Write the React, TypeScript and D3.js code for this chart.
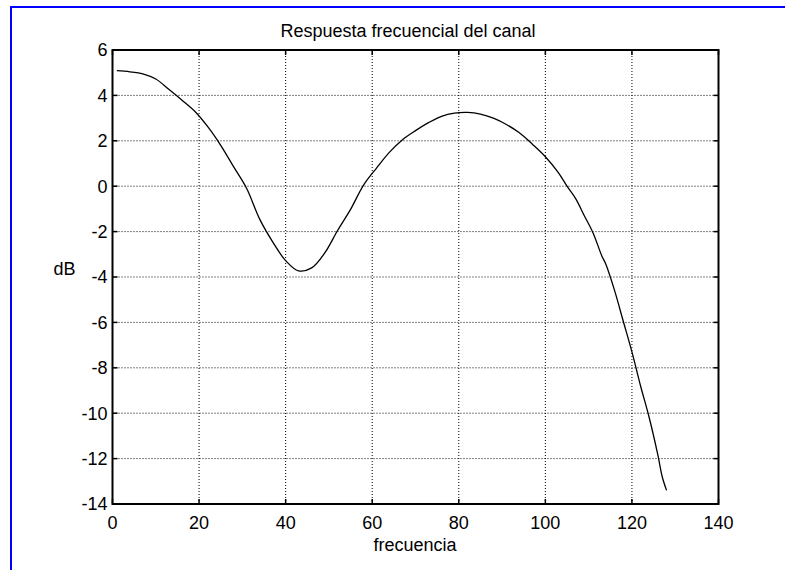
import React from "react";
import * as d3 from "d3";

// frecuencia (x) and response in dB (y)
const freq = [
  1, 4, 7, 10, 13, 16, 19, 22, 25, 28, 31, 34, 37, 40, 43, 46, 49, 52, 55, 58,
  61, 64, 67, 70, 73, 76, 79, 82, 85, 88, 91, 94, 97, 100, 103, 105, 107, 109,
  111, 113, 114, 116, 118, 120, 122, 124, 126, 127, 128,
];
const dB = [
  5.09, 5.04, 4.95, 4.72, 4.27, 3.8, 3.3, 2.62, 1.8, 0.85, -0.1, -1.45, -2.45,
  -3.28, -3.73, -3.6, -2.95, -1.95, -1.02, 0.05, 0.8, 1.5, 2.05, 2.45, 2.8,
  3.08, 3.22, 3.25, 3.18, 3.0, 2.72, 2.35, 1.85, 1.3, 0.6, 0.0, -0.55, -1.3,
  -2.05, -3.05, -3.45, -4.6, -5.95, -7.3, -8.8, -10.2, -11.85, -12.8, -13.4,
];
const xTicks = [0, 20, 40, 60, 80, 100, 120, 140];
const yTicks = [6, 4, 2, 0, -2, -4, -6, -8, -10, -12, -14];

const W = 785;
const H = 570;
const left = 112.5,
  right = 718.5,
  top = 50,
  bottom = 504;

const App = () => {
  const x = d3.scaleLinear().domain([0, 140]).range([left, right]);
  const y = d3.scaleLinear().domain([-14, 6]).range([bottom, top]);

  const pts: [number, number][] = freq.map((f, i) => [f, dB[i]]);
  const line = d3
    .line<[number, number]>()
    .x((d) => x(d[0]))
    .y((d) => y(d[1]))
    .curve(d3.curveCatmullRom.alpha(0.5));

  const font = "'Liberation Sans', Arial, sans-serif";
  const fs = 18;

  return (
    <svg
      width={W}
      height={H}
      style={{ position: "absolute", left: 0, top: 0, background: "#fff" }}
      fontFamily={font}
    >
      {/* figure border (blue, runs off the page) */}
      <rect x={11} y={7} width={1000} height={1000} fill="none" stroke="#0000ff" strokeWidth={2} />

      {/* grid */}
      <g stroke="#000" strokeWidth={1} strokeDasharray="1,2">
        {xTicks.slice(1, -1).map((t) => (
          <line key={"gx" + t} x1={x(t)} x2={x(t)} y1={top} y2={bottom} />
        ))}
        {yTicks.slice(1, -1).map((t) => (
          <line key={"gy" + t} x1={left} x2={right} y1={y(t)} y2={y(t)} />
        ))}
      </g>

      {/* curve */}
      <path d={line(pts) || ""} fill="none" stroke="#000" strokeWidth={1.3} />

      {/* ticks, inward on all four sides */}
      <g stroke="#000" strokeWidth={1.5}>
        {xTicks.map((t) => (
          <g key={"tx" + t}>
            <line x1={x(t)} x2={x(t)} y1={bottom} y2={bottom - 5} />
            <line x1={x(t)} x2={x(t)} y1={top} y2={top + 5} />
          </g>
        ))}
        {yTicks.map((t) => (
          <g key={"ty" + t}>
            <line x1={left} x2={left + 5} y1={y(t)} y2={y(t)} />
            <line x1={right} x2={right - 5} y1={y(t)} y2={y(t)} />
          </g>
        ))}
      </g>

      {/* axes box */}
      <rect
        x={left}
        y={top}
        width={right - left}
        height={bottom - top}
        fill="none"
        stroke="#000"
        strokeWidth={2}
      />

      {/* tick labels */}
      <g fontSize={fs} fill="#000">
        {xTicks.map((t) => (
          <text key={"lx" + t} x={x(t)} y={529} textAnchor="middle">
            {t}
          </text>
        ))}
        {yTicks.map((t) => (
          <text key={"ly" + t} x={107.5} y={y(t) + 6.3} textAnchor="end">
            {t}
          </text>
        ))}
      </g>

      <text x={408} y={37} fontSize={fs} textAnchor="middle">
        Respuesta frecuencial del canal
      </text>
      <text x={415} y={551} fontSize={fs} textAnchor="middle">
        frecuencia
      </text>
      <text x={64.5} y={275} fontSize={fs} textAnchor="middle">
        dB
      </text>
    </svg>
  );
};

export default App;
